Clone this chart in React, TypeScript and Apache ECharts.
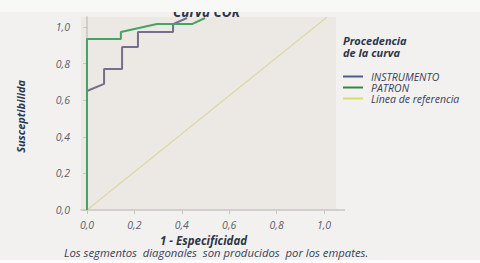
import React, { useEffect, useRef } from "react";
import * as echarts from "echarts";

const xTicks = [0, 0.2, 0.4, 0.6, 0.8, 1.0];
const yTicks = [0, 0.2, 0.4, 0.6, 0.8, 1.0];

const instrumentoX = [0, 0.072, 0.072, 0.148, 0.148, 0.215, 0.215, 0.363, 0.363, 0.422];
const instrumentoY = [0.65, 0.689, 0.77, 0.77, 0.891, 0.891, 0.973, 0.973, 1.016, 1.049];

const patronX = [0, 0, 0.143, 0.143, 0.295, 0.443, 0.498];
const patronY = [0, 0.934, 0.934, 0.973, 1.016, 1.016, 1.049];

const refX = [0, 1.013];
const refY = [0, 1.055];

const seriesNames = ["INSTRUMENTO", "PATRON", "Línea de referencia"];

const FONT = "'Open Sans', 'Liberation Sans', sans-serif";
const fmt = (v: number) => v.toFixed(1).replace(".", ",");
const zip = (xs: number[], ys: number[]) => xs.map((x, i) => [x, ys[i]]);

export default function App() {
  const ref = useRef<HTMLDivElement>(null);
  useEffect(() => {
    if (!ref.current) return;
    const chart = echarts.init(ref.current, undefined, { renderer: "svg" });
    const axisCommon = {
      type: "value" as const,
      splitLine: { show: false },
      axisLine: { show: true, lineStyle: { color: "#c9c6c2", width: 1.5 } },
      axisTick: { show: true, length: 4, lineStyle: { color: "#c9c6c2" } },
      axisLabel: {
        fontFamily: FONT,
        fontStyle: "italic",
        fontSize: 10.5,
        color: "#5a5f6a",
        formatter: (v: number) => fmt(v),
      },
    };
    chart.setOption({
      animation: false,
      backgroundColor: "#f2f1ef",
      grid: {
        left: 81,
        right: 144,
        top: 17,
        bottom: 53,
        show: true,
        backgroundColor: "#ece8e4",
        borderWidth: 0,
      },
      xAxis: {
        ...axisCommon,
        min: -0.0253,
        max: 1.0506,
        axisTick: { ...axisCommon.axisTick, customValues: xTicks },
        axisLabel: { ...axisCommon.axisLabel, customValues: xTicks, margin: 9 },
      },
      yAxis: {
        ...axisCommon,
        min: 0,
        max: 1.0546,
        axisTick: { ...axisCommon.axisTick, customValues: yTicks },
        axisLabel: { ...axisCommon.axisLabel, customValues: yTicks, margin: 11 },
      },
      legend: {
        orient: "vertical",
        left: 343,
        top: 71,
        padding: 0,
        itemGap: 0,
        itemWidth: 20,
        itemHeight: 2,
        icon: "rect",
        selectedMode: false,
        textStyle: {
          fontFamily: FONT,
          fontStyle: "italic",
          fontSize: 10.5,
          lineHeight: 10,
          color: "#3a4059",
          padding: [0, 0, 0, 3],
        },
        data: [
          { name: seriesNames[0], itemStyle: { color: "#4f5f86" } },
          { name: seriesNames[1], itemStyle: { color: "#2f8c3c" } },
          { name: seriesNames[2], itemStyle: { color: "#dcdc5e" } },
        ],
      },
      series: [
        {
          name: seriesNames[2],
          type: "line",
          data: zip(refX, refY),
          showSymbol: false,
          lineStyle: { color: "#ddd8a6", width: 1.2 },
          itemStyle: { color: "#dcdc5e" },
          z: 1,
        },
        {
          name: seriesNames[0],
          type: "line",
          data: zip(instrumentoX, instrumentoY),
          showSymbol: false,
          lineStyle: { color: "#776d8c", width: 2 },
          itemStyle: { color: "#4f5f86" },
          z: 2,
        },
        {
          name: seriesNames[1],
          type: "line",
          data: zip(patronX, patronY),
          showSymbol: false,
          lineStyle: { color: "#45a363", width: 2 },
          itemStyle: { color: "#2f8c3c" },
          z: 3,
        },
      ],
      graphic: [
        {
          type: "line",
          shape: { x1: 336, y1: 210, x2: 345, y2: 210 },
          style: { stroke: "#c9c6c2", lineWidth: 1.5 },
        },
        {
          type: "text",
          left: 173,
          top: 5,
          style: {
            text: "Curva COR",
            fontFamily: FONT,
            fontStyle: "italic",
            fontWeight: "bold",
            fontSize: 13.5,
            fill: "#2f3548",
          },
          z: 10,
        },
        {
          type: "rect",
          shape: { x: 0, y: 0, width: 480, height: 12 },
          style: { fill: "#f8f8f7" },
          z: 20,
        },
        {
          type: "rect",
          shape: { x: 0, y: 260, width: 480, height: 3 },
          style: { fill: "#fbfbfb" },
          z: 20,
        },
        {
          type: "text",
          left: 343,
          top: 35,
          style: {
            text: "Procedencia\nde la curva",
            fontFamily: FONT,
            fontStyle: "italic",
            fontWeight: "bold",
            fontSize: 11,
            lineHeight: 11.5,
            fill: "#2f3548",
          },
        },
        {
          type: "text",
          left: 15,
          top: 80,
          rotation: Math.PI / 2,
          style: {
            text: "Susceptibilida",
            fontFamily: FONT,
            fontStyle: "italic",
            fontWeight: "bold",
            fontSize: 11,
            fill: "#2f3548",
          },
        },
        {
          type: "text",
          left: 160,
          top: 234,
          style: {
            text: "1 - Especificidad",
            fontFamily: FONT,
            fontStyle: "italic",
            fontWeight: "bold",
            fontSize: 11.5,
            fill: "#2f3548",
          },
        },
        {
          type: "text",
          left: 64,
          top: 247,
          style: {
            text: "Los segmentos  diagonales  son producidos  por los empates.",
            fontFamily: FONT,
            fontStyle: "italic",
            fontSize: 11.3,
            fill: "#3a4059",
          },
        },
      ],
    });
    return () => chart.dispose();
  }, []);
  return (
    <div
      ref={ref}
      style={{ position: "fixed", left: 0, top: 0, width: 480, height: 263 }}
    />
  );
}
